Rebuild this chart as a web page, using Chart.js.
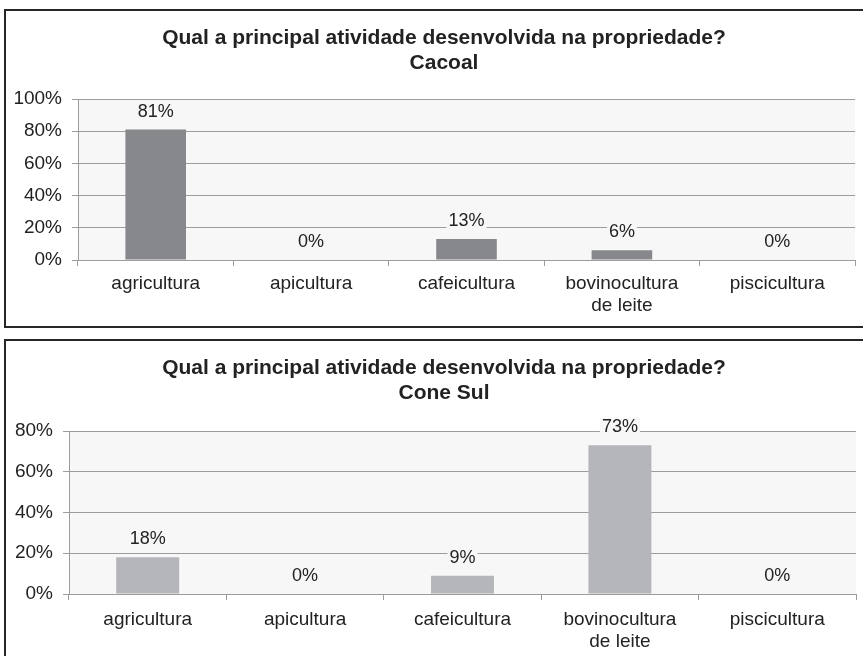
<!DOCTYPE html>
<html>
<head>
<meta charset="utf-8">
<script src="https://cdn.jsdelivr.net/npm/chart.js@4.4.0/dist/chart.umd.min.js"></script>
<style>
    html, body { margin: 0; padding: 0; background: #fff; overflow: hidden; width: 863px; height: 656px; }
    .box { position: absolute; border: 2px solid #262626; background: #fff; }
    #boxTop { left: 4px; top: 9px; width: 870px; height: 315px; }
    #boxBottom { left: 4px; top: 339px; width: 870px; height: 330px; }
    canvas { display: block; }
</style>
</head>
<body>
<div class="box" id="boxTop"><canvas id="chartCacoal" width="857" height="315"></canvas></div>
<div class="box" id="boxBottom"><canvas id="chartConeSul" width="857" height="315"></canvas></div>

<script>
const categories = ['agricultura', 'apicultura', 'cafeicultura', ['bovinocultura', 'de leite'], 'piscicultura'];
const cacoalValues = [81, 0, 13, 6, 0];
const coneSulValues = [18, 0, 9, 73, 0];
const titleLine = 'Qual a principal atividade desenvolvida na propriedade?';
const cacoalTitle = 'Cacoal';
const coneSulTitle = 'Cone Sul';

const FONT = '"Liberation Sans", Arial, sans-serif';
const TEXT = '#222222';
const GRID = '#9c9c9c';
const PLOT_BG = '#f7f7f7';

// light grey plot area behind the grid
const plotBackground = {
    id: 'plotBackground',
    beforeDraw(chart) {
        const { ctx, chartArea } = chart;
        ctx.save();
        ctx.fillStyle = PLOT_BG;
        ctx.fillRect(chartArea.left, chartArea.top, chartArea.right - chartArea.left, chartArea.bottom - chartArea.top);
        ctx.restore();
    }
};

// two-line title, centred a little right of the canvas middle like the original
const twoLineTitle = {
    id: 'twoLineTitle',
    afterDraw(chart, args, opts) {
        const ctx = chart.ctx;
        ctx.save();
        ctx.font = 'bold 21px ' + FONT;
        ctx.fillStyle = TEXT;
        ctx.textAlign = 'center';
        ctx.textBaseline = 'middle';
        opts.lines.forEach((line, i) => {
            ctx.fillText(line, opts.x, opts.y + i * 25);
        });
        ctx.restore();
    }
};

// value labels above each bar, on a patch that hides the grid line
const valueLabels = {
    id: 'valueLabels',
    afterDatasetsDraw(chart) {
        const ctx = chart.ctx;
        const meta = chart.getDatasetMeta(0);
        const values = chart.data.datasets[0].data;
        ctx.save();
        ctx.font = '18px ' + FONT;
        ctx.textAlign = 'center';
        ctx.textBaseline = 'middle';
        meta.data.forEach((bar, i) => {
            const text = values[i] + '%';
            const y = bar.y - 18;
            const w = ctx.measureText(text).width + 4;
            ctx.fillStyle = PLOT_BG;
            ctx.fillRect(bar.x - w / 2, y - 9, w, 18);
            ctx.fillStyle = TEXT;
            ctx.fillText(text, bar.x, y);
        });
        ctx.restore();
    }
};

function makeChart(canvasId, subtitle, values, color, yMax, opts) {
    const ctx = document.getElementById(canvasId).getContext('2d');
    return new Chart(ctx, {
        type: 'bar',
        data: {
            labels: categories,
            datasets: [{
                data: values,
                backgroundColor: color,
                borderWidth: 0,
                categoryPercentage: 1,
                barPercentage: opts.barPct
            }]
        },
        options: {
            responsive: false,
            animation: false,
            layout: { padding: { left: 0, right: opts.padRight, top: opts.padTop, bottom: 0 } },
            plugins: {
                legend: { display: false },
                tooltip: { enabled: false },
                title: { display: false },
                twoLineTitle: { lines: [titleLine, subtitle], x: 438, y: 27 }
            },
            scales: {
                x: {
                    grid: { offset: true, drawOnChartArea: false, drawTicks: true, tickLength: 6, color: GRID },
                    border: { display: true, color: GRID },
                    ticks: { color: TEXT, font: { family: FONT, size: 19, lineHeight: 1.15 }, padding: opts.xPad, maxRotation: 0, autoSkip: false },
                    afterFit(scale) { scale.height = opts.xHeight; }
                },
                y: {
                    min: 0,
                    max: yMax,
                    grid: { color: GRID, tickLength: 6, drawTicks: true },
                    border: { display: true, color: GRID },
                    ticks: {
                        stepSize: 20,
                        color: TEXT,
                        padding: 10,
                        font: { family: FONT, size: 19 },
                        callback: v => v + '%'
                    },
                    afterFit(scale) { scale.width = opts.yWidth; }
                }
            }
        },
        plugins: [plotBackground, valueLabels, twoLineTitle]
    });
}

makeChart('chartCacoal', cacoalTitle, cacoalValues, '#87888c', 100,
    { barPct: 0.39, padRight: 8, padTop: 88, yWidth: 72, xHeight: 66, xPad: 7 });
makeChart('chartConeSul', coneSulTitle, coneSulValues, '#b5b6b9', 80,
    { barPct: 0.40, padRight: 7, padTop: 90, yWidth: 63, xHeight: 62, xPad: 9 });
</script>
</body>
</html>
